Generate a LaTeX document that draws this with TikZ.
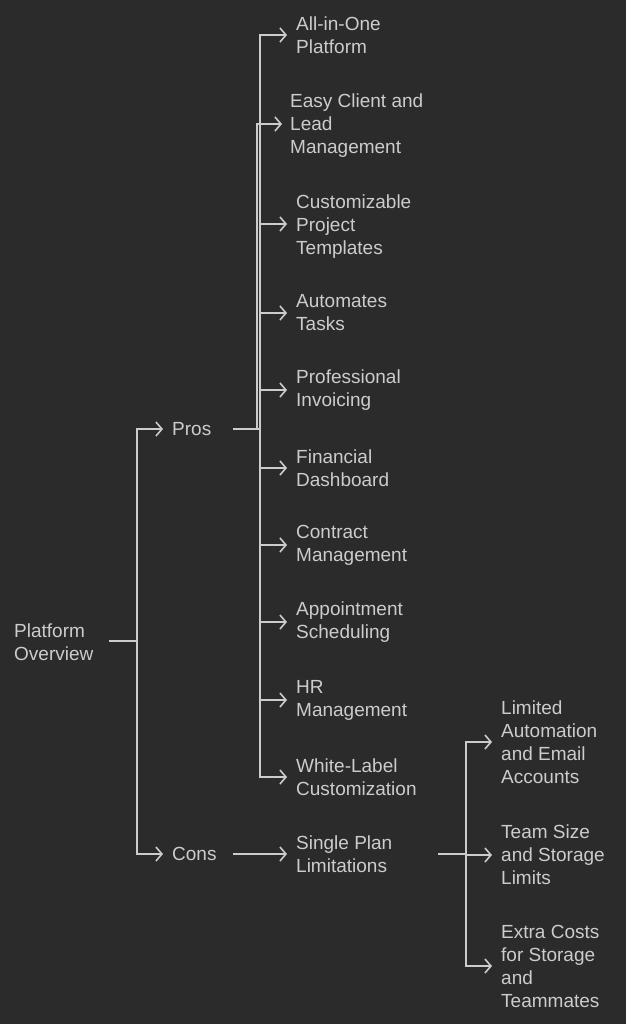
\documentclass[tikz,border=0pt]{standalone}
\usepackage{fontspec}
\setmainfont{Liberation Sans}
\usetikzlibrary{arrows.meta}
\definecolor{bg}{HTML}{2B2B2B}
\definecolor{fg}{HTML}{CCCCCC}
\begin{document}
\begin{tikzpicture}[x=1pt,y=-1pt,
  lbl/.style={anchor=west, inner sep=0pt, text=fg, align=left, font=\fontsize{19}{23}\selectfont},
  conn/.style={draw=fg, line width=1.6pt},
  arr/.style={conn, -{Straight Barb[length=6pt,width=14pt,line width=1.6pt]}}]
\fill[bg] (0,0) rectangle (626,1024);
\useasboundingbox (0,0) rectangle (626,1024);
% nodes
\node[lbl] (root) at (14,642) {Platform\\Overview};
\node[lbl] (pros) at (172,429) {Pros};
\node[lbl] (cons) at (172,854) {Cons};
\node[lbl] (p1) at (296,35) {All-in-One\\Platform};
\node[lbl] (p2) at (290,126) {Easy Client and\\Lead\\Management};
\node[lbl] (p3) at (296,227) {Customizable\\Project\\Templates};
\node[lbl] (p4) at (296,313) {Automates\\Tasks};
\node[lbl] (p5) at (296,390) {Professional\\Invoicing};
\node[lbl] (p6) at (296,468) {Financial\\Dashboard};
\node[lbl] (p7) at (296,545) {Contract\\Management};
\node[lbl] (p8) at (296,622) {Appointment\\Scheduling};
\node[lbl] (p9) at (296,700) {HR\\Management};
\node[lbl] (p10) at (296,777) {White-Label\\Customization};
\node[lbl] (sp) at (296,854) {Single Plan\\Limitations};
\node[lbl] (c1) at (501,742) {Limited\\Automation\\and Email\\Accounts};
\node[lbl] (c2) at (501,855) {Team Size\\and Storage\\Limits};
\node[lbl] (c3) at (501,966) {Extra Costs\\for Storage\\and\\Teammates};
% junction coordinates
\coordinate (rootout) at (109,641);
\coordinate (j0) at (137,641);
\coordinate (prosout) at (233,429);
\coordinate (j1) at (260,429);
\coordinate (j1b) at (257,429);
\coordinate (consout) at (233,854);
\coordinate (spout) at (438,854);
\coordinate (j2) at (466,854);
% connectors
\draw[conn] (rootout) -- (j0);
\draw[arr] (j0) |- ([xshift=-9pt]pros.west);
\draw[arr] (j0) |- ([xshift=-9pt]cons.west);
\draw[conn] (prosout) -- (j1);
\foreach \n in {p1,p4,p5,p6,p7,p8,p9,p10}
  \draw[arr] (j1) |- ([xshift=-9pt]\n.west);
\draw[arr] (j1) |- ([xshift=-9pt,yshift=3pt]p3.west);
\draw[arr] (j1b) |- ([xshift=-8pt,yshift=2pt]p2.west);
\draw[arr] (consout) -- ([xshift=-9pt]sp.west);
\draw[conn] (spout) -- (j2);
\foreach \n in {c1,c2,c3}
  \draw[arr] (j2) |- ([xshift=-9pt]\n.west);
\end{tikzpicture}
\end{document}
